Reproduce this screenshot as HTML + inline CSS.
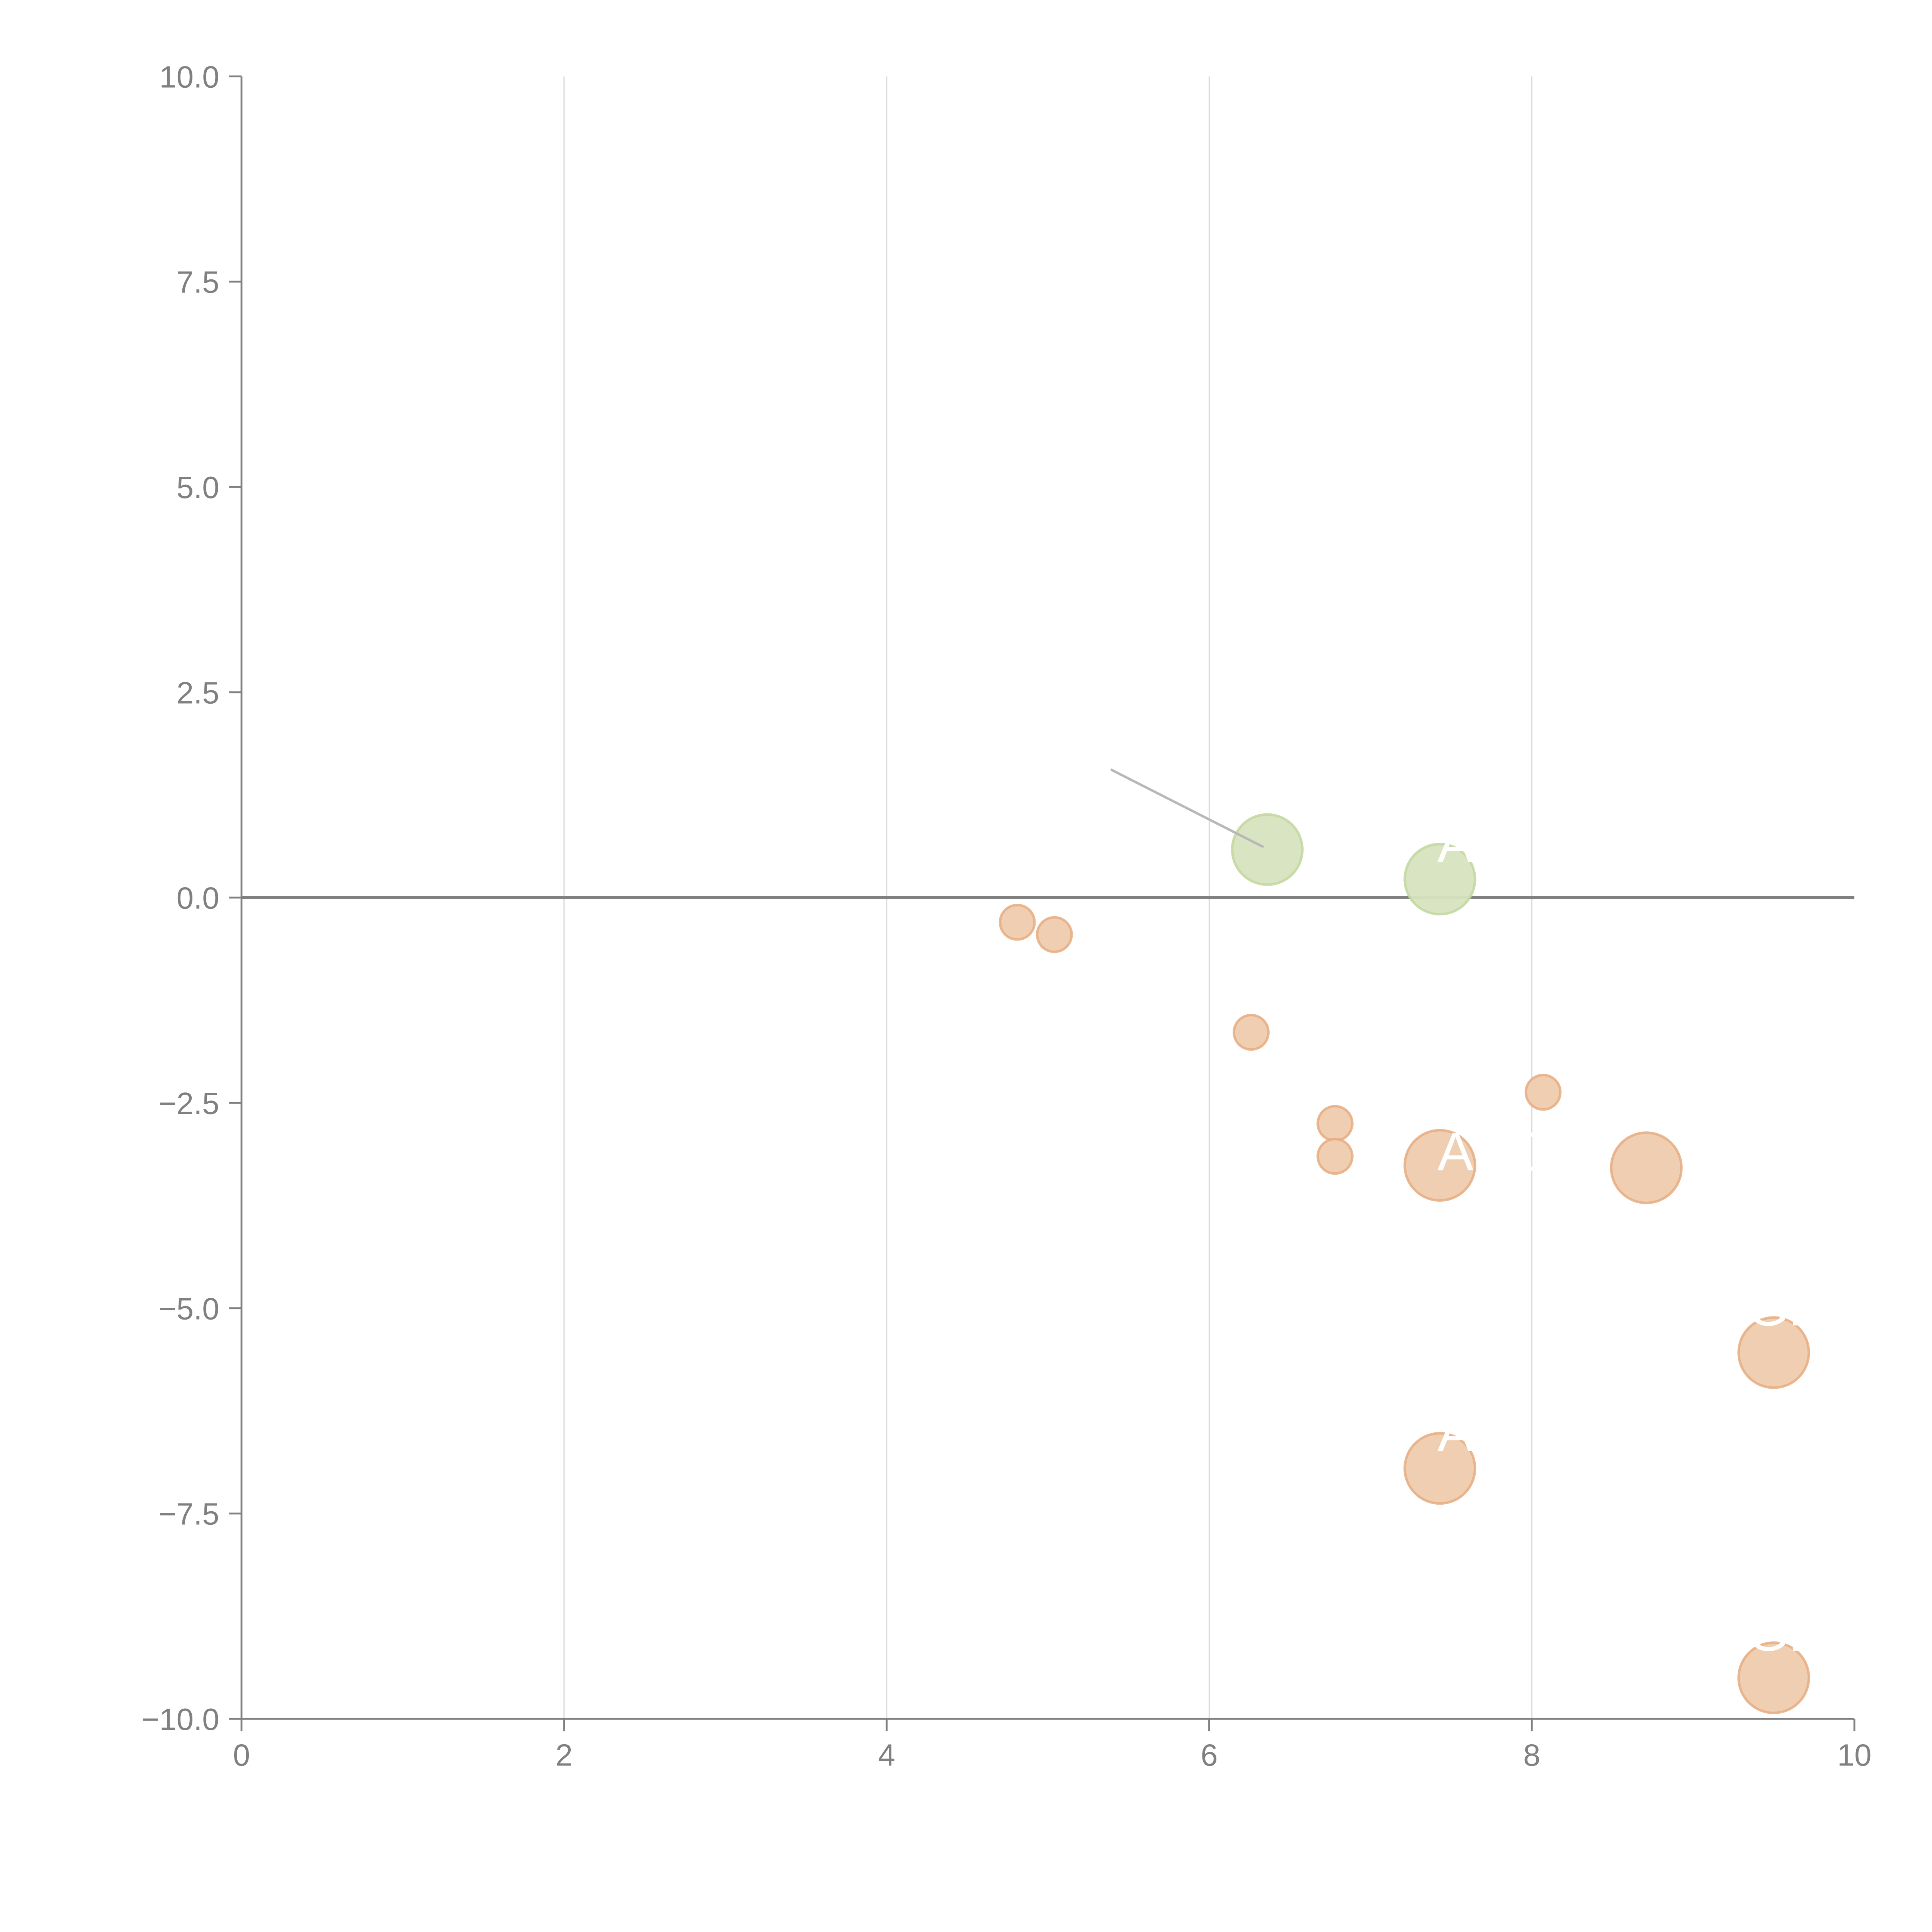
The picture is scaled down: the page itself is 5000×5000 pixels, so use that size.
<!DOCTYPE html>
<html><head><meta charset="utf-8"><style>
html,body{margin:0;padding:0;background:#fff;}
svg{display:block;}
text{font-family:"Liberation Sans",Arial,sans-serif;}
</style></head><body>
<svg id="chart" width="5000" height="5000" viewBox="0 0 1568 1568" xmlns="http://www.w3.org/2000/svg">
<g id="grid"></g>
<g id="axes"></g>
<g id="marks"></g>
<g id="labels"></g>
</svg>
<script>
const xTicks = [0, 2, 4, 6, 8, 10];
const yTicks = [-10, -7.5, -5, -2.5, 0, 2.5, 5, 7.5, 10];
const yTickLabels = ["\u221210.0", "\u22127.5", "\u22125.0", "\u22122.5", "0.0", "2.5", "5.0", "7.5", "10.0"];
const xValues = [6.36, 7.43, 4.81, 5.04, 6.26, 6.78, 6.78, 8.07, 7.43, 8.71, 9.50, 7.43, 9.50];
const yValues = [0.585, 0.225, -0.30, -0.45, -1.64, -2.75, -3.15, -2.37, -3.26, -3.29, -5.54, -6.95, -9.50];
const sizes = [2, 2, 1, 1, 1, 1, 1, 1, 2, 2, 2, 2, 2];
const groups = ["pos", "pos", "neg", "neg", "neg", "neg", "neg", "neg", "neg", "neg", "neg", "neg", "neg"];

const X0 = 196, X1 = 1505, Y0 = 1395, Y1 = 62;
function sx(v){ return X0 + (v - 0) / 10 * (X1 - X0); }
function sy(v){ return Y0 - (v + 10) / 20 * (Y0 - Y1); }
function rs(s){ return s === 2 ? 28.5 : 14; }
const NS = "http://www.w3.org/2000/svg";
function mk(tag, attrs, parent){ const e = document.createElementNS(NS, tag); for (const k in attrs) e.setAttribute(k, attrs[k]); parent.appendChild(e); return e; }

const grid = document.getElementById('grid');
const axes = document.getElementById('axes');
const marks = document.getElementById('marks');
const labels = document.getElementById('labels');

xTicks.forEach((t) => {
  if (t !== 0 && t !== 10) {
    const g = mk('line', {x1: sx(t), x2: sx(t), y1: Y1, y2: Y0, stroke: '#dcdcdc', 'stroke-width': 1}, grid);
    
    
  }
  const tk = mk('line', {x1: sx(t), x2: sx(t), y1: Y0, y2: Y0 + 10, stroke: '#808080', 'stroke-width': 1.5}, axes);
  
  
  const lb = mk('text', {x: sx(t), y: Y0 + 38, 'text-anchor': 'middle', 'font-size': 25, fill: '#808080'}, axes);
  lb.textContent = String(t);
  
  
});
yTicks.forEach((t, i) => {
  const tk = mk('line', {x1: X0 - 10, x2: X0, y1: sy(t), y2: sy(t), stroke: '#808080', 'stroke-width': 1.5}, axes);
  
  
  const lb = mk('text', {x: X0 - 18, y: sy(t) + 9, 'text-anchor': 'end', 'font-size': 25, fill: '#808080'}, axes);
  lb.textContent = yTickLabels[i];
  
  
});
const xa = mk('line', {x1: X0, x2: X1, y1: Y0, y2: Y0, stroke: '#808080', 'stroke-width': 1.5}, axes);


const ya = mk('line', {x1: X0, x2: X0, y1: Y1, y2: Y0, stroke: '#808080', 'stroke-width': 1.5}, axes);


const zl = mk('line', {x1: X0, x2: X1, y1: sy(0), y2: sy(0), stroke: '#808080', 'stroke-width': 2.5}, axes);



const ll = mk('line', {x1: sx(xValues[0]) - 127, y1: sy(yValues[0]) - 65, x2: sx(xValues[0]) - 3, y2: sy(yValues[0]) - 2, stroke: '#b8b8b8', 'stroke-width': 2}, labels);



xValues.forEach((xv, i) => {
  const pos = groups[i] === 'pos';
  const c = mk('circle', {cx: sx(xv), cy: sy(yValues[i]), r: rs(sizes[i]),
    fill: pos ? '#d6e3bf' : '#efcbad', 'fill-opacity': 0.95,
    stroke: pos ? '#c3d79c' : '#e6ac80', 'stroke-width': 2, 'stroke-opacity': 0.85}, marks);
  
  
});

const labelTexts = [["ABC", 7.43, -3.26, -2, 4], ["AB", 7.43, 0.225, -2, -14], ["AB", 7.43, -6.95, -2, -14], ["GE", 9.50, -5.54, -22, -22], ["GE", 9.50, -9.50, -22, -22]];
labelTexts.forEach((l) => {
  const t = mk('text', {x: sx(l[1]) + l[3], y: sy(l[2]) + l[4], 'font-size': 44, fill: '#ffffff'}, labels);
  t.textContent = l[0];
  
  
});
</script>
</body></html>
